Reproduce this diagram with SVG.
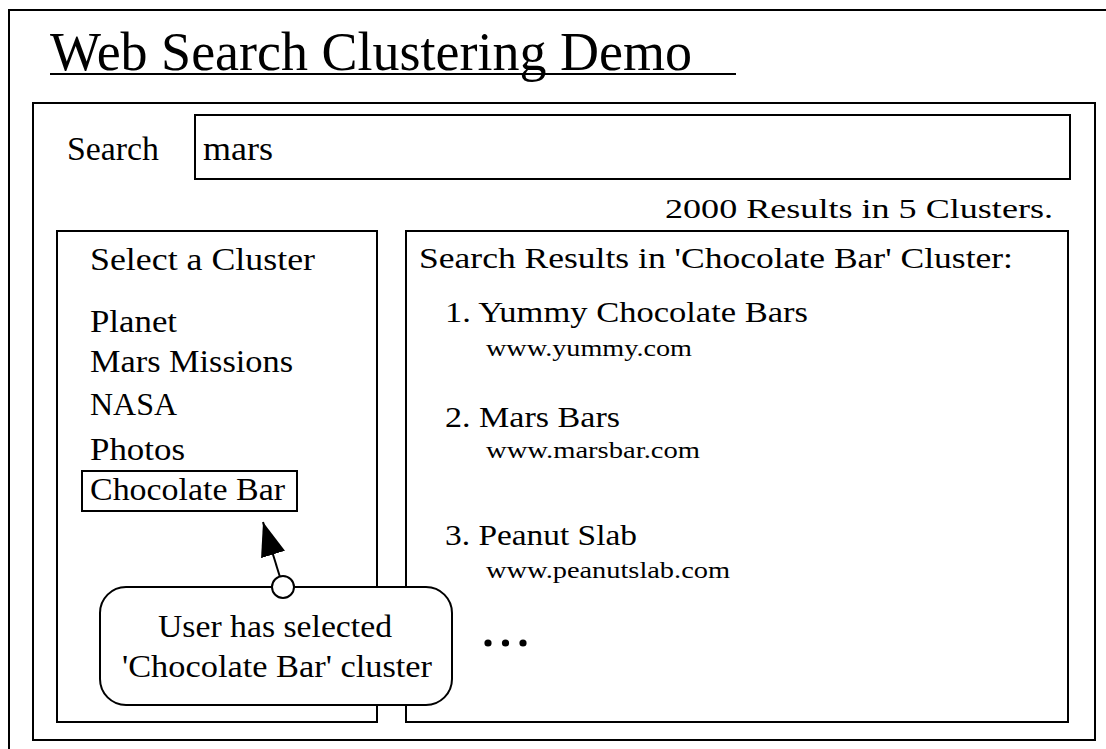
<svg xmlns="http://www.w3.org/2000/svg" width="1106" height="749" viewBox="0 0 1106 749">
  <style>
    .frame { fill: #ffffff; stroke: #000000; stroke-width: 2; }
    .t { font-family: "Liberation Serif", "Times New Roman", serif; fill: #000000; }
    .ui { font-size: 34px; }
    .item { font-size: 32px; }
    .head { font-size: 29px; }
    .res { font-size: 30px; }
    .url { font-size: 24px; }
    .note { font-size: 31px; }
    .link { fill: none; stroke: #000000; stroke-width: 2; }
  </style>
  <defs>
    <marker id="arrowhead" markerUnits="userSpaceOnUse" viewBox="0 0 34 25" refX="34" refY="12.5" markerWidth="34" markerHeight="25" orient="auto">
      <path d="M0,0 L34,12.5 L0,25 Z" fill="#000000"/>
    </marker>
  </defs>

  <rect width="1106" height="749" fill="#ffffff"/>

  <!-- page frame -->
  <g id="page">
    <rect class="frame" x="9" y="10" width="1120" height="760"/>
    <text class="t" x="50" y="70" font-size="54">Web Search Clustering Demo</text>
    <line x1="50" y1="74" x2="736" y2="74" stroke="#000000" stroke-width="2"/>
  </g>

  <!-- application window -->
  <g id="window">
    <rect class="frame" x="33" y="103" width="1062" height="637"/>
  </g>

  <!-- search bar -->
  <g id="search">
    <text class="t ui" x="67" y="160" textLength="92" lengthAdjust="spacingAndGlyphs">Search</text>
    <rect class="frame" x="195" y="115" width="875" height="64"/>
    <text class="t ui" x="203" y="160" textLength="70" lengthAdjust="spacingAndGlyphs">mars</text>
  </g>

  <g id="summary">
    <text class="t" x="665" y="218" font-size="28" textLength="388" lengthAdjust="spacingAndGlyphs">2000 Results in 5 Clusters.</text>
  </g>

  <!-- cluster list -->
  <g id="clusters">
    <rect class="frame" x="57" y="231" width="320" height="491"/>
    <text class="t item" x="90" y="270" textLength="225" lengthAdjust="spacingAndGlyphs">Select a Cluster</text>
    <text class="t item" x="90" y="332" textLength="87" lengthAdjust="spacingAndGlyphs">Planet</text>
    <text class="t item" x="90" y="372" textLength="203" lengthAdjust="spacingAndGlyphs">Mars Missions</text>
    <text class="t item" x="90" y="415" textLength="87" lengthAdjust="spacingAndGlyphs">NASA</text>
    <text class="t item" x="90" y="460" textLength="95" lengthAdjust="spacingAndGlyphs">Photos</text>
  </g>

  <g id="selected-cluster">
    <rect class="frame" x="82" y="471" width="215" height="40"/>
    <text class="t item" x="90" y="500" textLength="195" lengthAdjust="spacingAndGlyphs">Chocolate Bar</text>
  </g>

  <!-- result list -->
  <g id="results">
    <rect class="frame" x="406" y="231" width="662" height="491"/>
    <text class="t head" x="419" y="268" textLength="594" lengthAdjust="spacingAndGlyphs">Search Results in 'Chocolate Bar' Cluster:</text>
    <text class="t res" x="445" y="322" textLength="363" lengthAdjust="spacingAndGlyphs">1. Yummy Chocolate Bars</text>
    <text class="t url" x="486" y="356" textLength="206" lengthAdjust="spacingAndGlyphs">www.yummy.com</text>
    <text class="t res" x="445" y="427" textLength="175" lengthAdjust="spacingAndGlyphs">2. Mars Bars</text>
    <text class="t url" x="486" y="458" textLength="214" lengthAdjust="spacingAndGlyphs">www.marsbar.com</text>
    <text class="t res" x="445" y="545" textLength="192" lengthAdjust="spacingAndGlyphs">3. Peanut Slab</text>
    <text class="t url" x="486" y="578" textLength="244" lengthAdjust="spacingAndGlyphs">www.peanutslab.com</text>
    <circle cx="488" cy="643" r="3.6" fill="#000000"/>
    <circle cx="505.5" cy="643" r="3.6" fill="#000000"/>
    <circle cx="523" cy="643" r="3.6" fill="#000000"/>
  </g>

  <!-- callout pointing at the selected cluster -->
  <g id="callout">
    <rect class="frame" x="100" y="587" width="352" height="118" rx="26" ry="26"/>
    <text class="t note" x="158" y="637" textLength="234" lengthAdjust="spacingAndGlyphs">User has selected</text>
    <text class="t note" x="122" y="677" textLength="310" lengthAdjust="spacingAndGlyphs">'Chocolate Bar' cluster</text>
  </g>

  <g id="connectors">
    <line class="link" x1="279.8" y1="576.5" x2="263" y2="522" marker-end="url(#arrowhead)"/>
    <circle class="frame" cx="283" cy="587" r="11"/>
  </g>
</svg>
